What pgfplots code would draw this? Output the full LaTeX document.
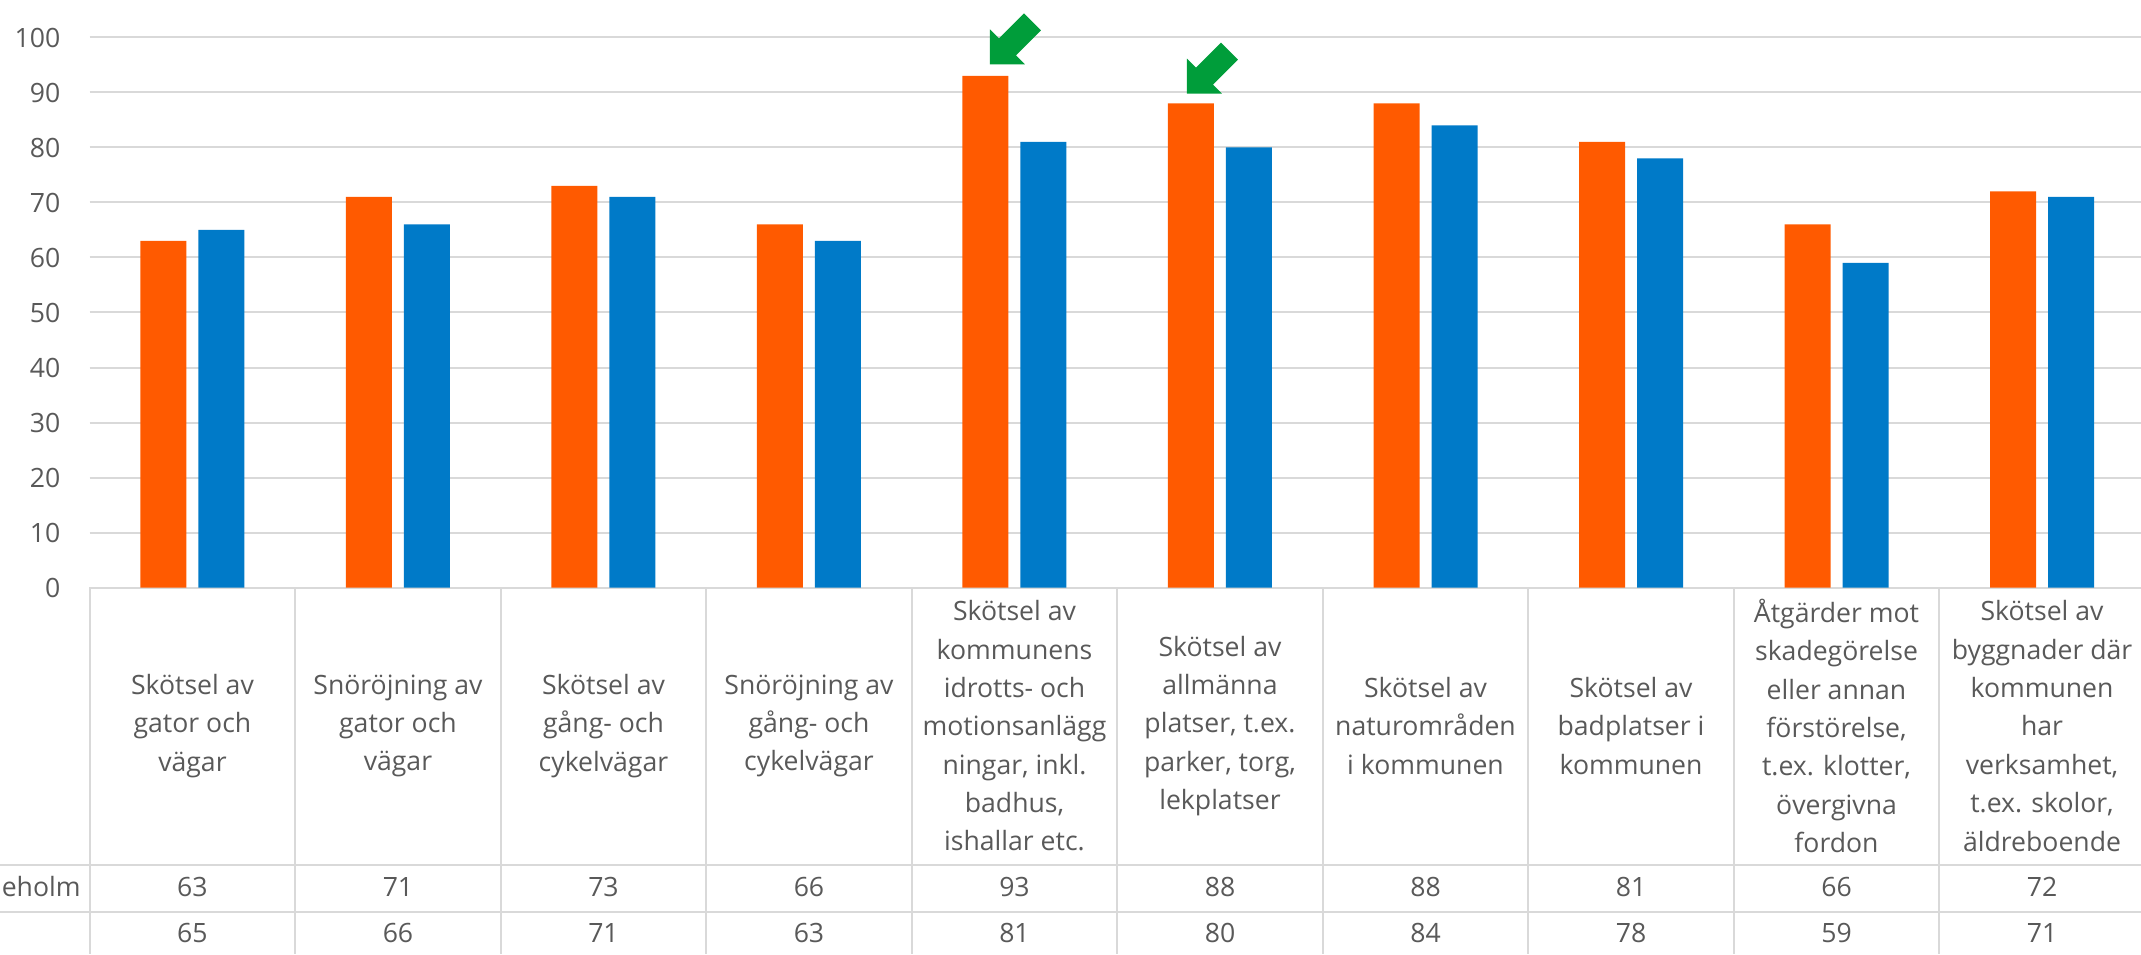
\documentclass[border=0pt]{standalone}
\usepackage{pgfplots}
\pgfplotsset{compat=1.18}
\usepackage{fontspec}
\setmainfont{Open Sans}
\definecolor{cOrange}{RGB}{255,90,0}
\definecolor{cBlue}{RGB}{0,122,200}
\definecolor{cGreen}{RGB}{0,157,58}
\definecolor{cGrid}{RGB}{217,217,217}
\definecolor{cText}{RGB}{89,89,89}
\newcommand{\lf}{\fontsize{13.3}{19.17}\selectfont}
\begin{document}
\begin{tikzpicture}
\begin{scope}
\clip (0,0) rectangle (1070.5pt,477pt);
\begin{axis}[
  at={(44.85pt,183.25pt)}, anchor=south west,
  scale only axis, width=1027.5pt, height=275pt,
  xmin=-0.5, xmax=9.5, ymin=0, ymax=100,
  ytick={0,10,...,100},
  xtick={0,...,9},
  xticklabels={
    {Skötsel av\\gator och\\vägar},
    {Snöröjning av\\gator och\\vägar},
    {Skötsel av\\gång- och\\cykelvägar},
    {Snöröjning av\\gång- och\\cykelvägar},
    {Skötsel av\\kommunens\\idrotts- och\\motionsanlägg\\ningar, inkl.\\badhus,\\ishallar etc.},
    {Skötsel av\\allmänna\\platser, t.ex.\\parker, torg,\\lekplatser},
    {Skötsel av\\naturområden\\i kommunen},
    {Skötsel av\\badplatser i\\kommunen},
    {Åtgärder mot\\skadegörelse\\eller annan\\förstörelse,\\t.ex. klotter,\\övergivna\\fordon},
    {Skötsel av\\byggnader där\\kommunen\\har\\verksamhet,\\t.ex. skolor,\\äldreboende}},
  axis line style={draw=none},
  major tick length=0pt,
  ymajorgrids, grid style={cGrid, line width=1pt},
  clip=false,
  /pgf/number format/assume math mode=true,
  yticklabel style={font=\lf, text=cText, inner sep=0pt, xshift=-14.5pt},
  xticklabel style={font=\lf, text=cText, align=center, anchor=center, yshift=-69.25pt},
  bar width=23pt,
  visualization depends on={y \as \rawy},
]
\addplot[ybar, bar shift=-14.5pt, fill=cOrange, draw=none,
  nodes near coords,
  every node near coord/.append style={anchor=center, font=\lf, text=cText,
     yshift={-\rawy*2.75pt-149.75pt}}]
  coordinates {(0,63) (1,71) (2,73) (3,66) (4,93) (5,88) (6,88) (7,81) (8,66) (9,72)};
\addplot[ybar, bar shift=14.5pt, fill=cBlue, draw=none,
  nodes near coords,
  every node near coord/.append style={anchor=center, font=\lf, text=cText,
     yshift={-\rawy*2.75pt-172.75pt}}]
  coordinates {(0,65) (1,66) (2,71) (3,63) (4,81) (5,80) (6,84) (7,78) (8,59) (9,71)};
\coordinate (t1) at (axis cs:4,95.1);
\coordinate (t2) at (axis cs:5,89.8);
\end{axis}
% table lines
\foreach \k in {0,...,9} {
  \draw[cGrid, line width=1pt] ({44.85pt+\k*102.75pt},183.25pt) -- ({44.85pt+\k*102.75pt},0pt);
}
\draw[cGrid, line width=1pt] (0,44.5pt) -- (1070.5pt,44.5pt);
\draw[cGrid, line width=1pt] (0,21.15pt) -- (1070.5pt,21.15pt);
\node[anchor=east, font=\lf, text=cText, inner sep=0pt] at (40.5pt,33.5pt) {eholm};
% arrows
\foreach \t/\dx in {t1/-12.25pt, t2/-16.5pt} {
  \fill[cGreen, shift={(\t)}, xshift=\dx] (0,0) -- (0,17.5pt) -- (4.5pt,13pt) -- (17pt,25.5pt) -- (25.5pt,17pt) -- (13pt,4.5pt) -- (17.5pt,0) -- cycle;
}
\end{scope}
\pgfresetboundingbox
\useasboundingbox (0,0) rectangle (1070.5pt,477pt);
\end{tikzpicture}
\end{document}
